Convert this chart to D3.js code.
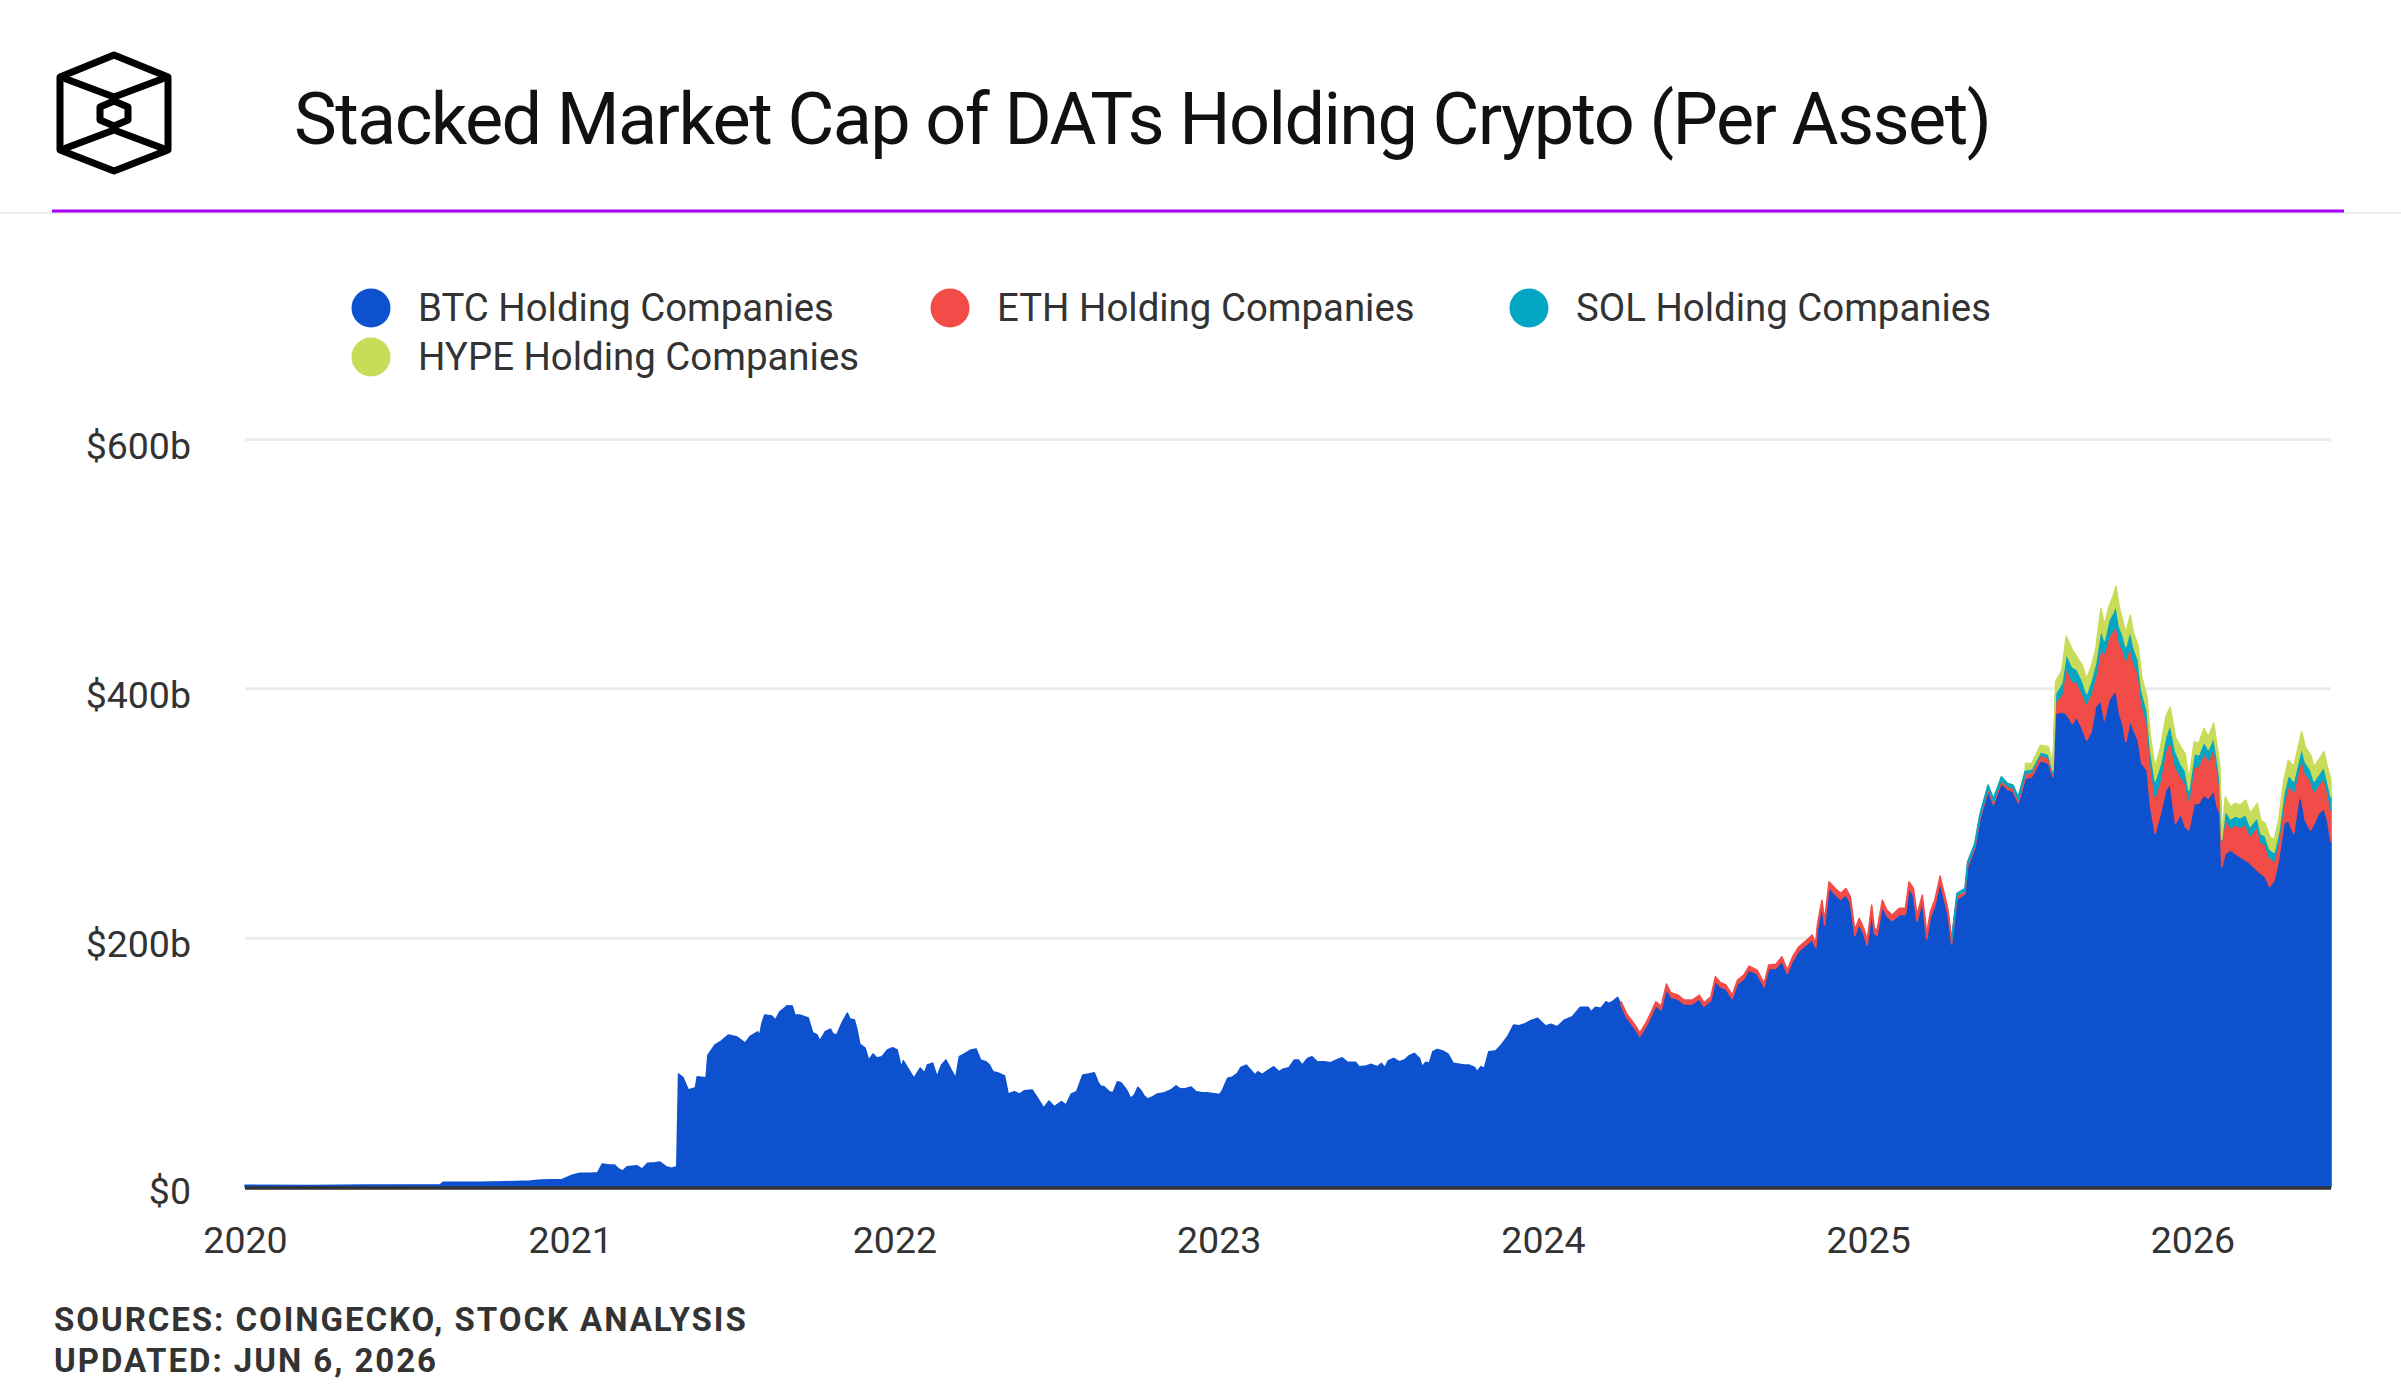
<!DOCTYPE html>
<html>
<head>
<meta charset="utf-8">
<script src="https://cdn.jsdelivr.net/npm/d3@7"></script>
<style>
  html, body { margin: 0; padding: 0; background: #fff; }
  svg { display: block; font-family: Roboto, "Noto Sans", sans-serif; }
</style>
</head>
<body>
<svg id="chart" width="2401" height="1400"></svg>
<script>
// ---- data ($ billions) ----

// period when only BTC holding companies are in the data
var btcOnlyDates = [
  "2020-01-01","2020-03-15","2020-05-15","2020-08-08","2020-08-11","2020-09-20","2020-10-20","2020-11-17","2020-11-29","2020-12-23",
  "2021-01-04","2021-01-12","2021-01-23","2021-02-01","2021-02-06","2021-02-14","2021-02-20","2021-02-25","2021-03-01","2021-03-06",
  "2021-03-17","2021-03-23","2021-03-29","2021-04-06","2021-04-12","2021-04-19","2021-04-25","2021-05-01","2021-05-03","2021-05-08",
  "2021-05-14","2021-05-22","2021-05-24","2021-06-03","2021-06-05","2021-06-13","2021-06-19","2021-06-28","2021-07-08","2021-07-17",
  "2021-07-23","2021-07-31","2021-08-02","2021-08-05","2021-08-08","2021-08-16","2021-08-20","2021-08-25","2021-09-02","2021-09-08",
  "2021-09-11","2021-09-17","2021-09-26","2021-10-01","2021-10-06","2021-10-09","2021-10-15","2021-10-21","2021-10-24","2021-10-28",
  "2021-11-03","2021-11-09","2021-11-12","2021-11-17","2021-11-20","2021-11-23","2021-11-29","2021-12-03","2021-12-08","2021-12-12",
  "2021-12-18","2021-12-24","2021-12-30","2022-01-04","2022-01-09","2022-01-11","2022-01-16","2022-01-23","2022-01-30","2022-02-04",
  "2022-02-07","2022-02-13","2022-02-18","2022-02-23","2022-02-28","2022-03-06","2022-03-11","2022-03-15","2022-03-23","2022-03-28",
  "2022-04-03","2022-04-08","2022-04-14","2022-04-18","2022-04-22","2022-04-27","2022-05-05","2022-05-09","2022-05-16","2022-05-22",
  "2022-05-27","2022-06-05","2022-06-11","2022-06-18","2022-06-24","2022-06-30","2022-07-08","2022-07-13","2022-07-19","2022-07-25",
  "2022-08-01","2022-08-08","2022-08-14","2022-08-18","2022-08-21","2022-08-25","2022-08-31","2022-09-04","2022-09-09","2022-09-13",
  "2022-09-19","2022-09-24","2022-09-28","2022-10-02","2022-10-05","2022-10-09","2022-10-13","2022-10-19","2022-10-24","2022-11-01",
  "2022-11-08","2022-11-14","2022-11-19","2022-11-25","2022-12-01","2022-12-06","2022-12-12","2022-12-19","2022-12-25","2023-01-02",
  "2023-01-05","2023-01-11","2023-01-16","2023-01-22","2023-01-26","2023-02-01","2023-02-06","2023-02-11","2023-02-14","2023-02-19",
  "2023-02-25","2023-03-04","2023-03-10","2023-03-14","2023-03-21","2023-03-27","2023-04-01","2023-04-05","2023-04-11","2023-04-16",
  "2023-04-22","2023-04-30","2023-05-07","2023-05-13","2023-05-20","2023-05-26","2023-06-04","2023-06-08","2023-06-16","2023-06-21",
  "2023-06-29","2023-07-03","2023-07-07","2023-07-11","2023-07-17","2023-07-23","2023-07-29","2023-08-03","2023-08-09","2023-08-15",
  "2023-08-18","2023-08-22","2023-08-26","2023-08-30","2023-09-04","2023-09-10","2023-09-16","2023-09-22","2023-09-29","2023-10-04",
  "2023-10-10","2023-10-16","2023-10-19","2023-10-23","2023-10-27","2023-11-01","2023-11-09","2023-11-15","2023-11-22","2023-11-29",
  "2023-12-05","2023-12-11","2023-12-18","2023-12-26","2024-01-04","2024-01-10","2024-01-17","2024-01-25","2024-02-03","2024-02-12",
  "2024-02-21","2024-02-24","2024-02-29","2024-03-06","2024-03-12","2024-03-15","2024-03-19","2024-03-25"
];
var btcOnly = [
  1.4,1.2,1.6,1.9,3.8,3.9,4.2,4.8,5.6,6.1,
  9.6,11.0,11.0,11.5,18.4,17.6,17.6,14.2,12.8,16.3,
  17.1,14.4,19.0,19.5,20.0,16.3,15.0,16.3,90.6,87.7,
  77.8,79.6,88.5,87.7,105.8,113.9,116.5,121.9,120.3,115.5,
  121.1,124.5,121.1,131.8,137.9,137.1,133.9,140.6,145.4,145.1,
  137.9,137.9,135.5,123.7,121.9,117.3,124.5,126.7,122.7,121.9,
  131.8,139.5,134.7,133.9,125.9,114.7,111.5,101.8,106.7,103.4,
  104.5,109.9,111.7,109.9,95.4,101.3,95.4,87.4,95.4,91.4,
  97.8,99.4,88.5,97.8,101.8,93.8,87.4,104.5,107.7,109.9,
  110.7,101.8,100.5,97.8,92.5,91.7,89.0,74.6,76.4,74.6,
  77.2,77.8,71.4,63.4,69.0,64.4,68.4,65.8,74.6,76.4,
  89.8,90.6,91.7,84.4,81.0,80.4,76.4,75.6,84.4,83.6,
  78.3,71.1,73.8,80.0,77.8,73.2,70.6,72.4,74.6,75.6,
  77.8,81.2,78.6,79.1,80.2,76.7,75.9,75.6,75.1,74.3,
  77.2,87.2,88.0,91.2,96.0,97.8,93.8,89.8,92.5,90.4,
  93.3,96.5,92.5,94.4,95.7,101.8,101.8,97.8,103.2,104.5,
  100.5,100.5,99.7,101.8,103.7,100.0,100.0,96.5,97.0,98.4,
  96.5,99.2,95.7,101.3,103.2,100.5,101.8,105.1,107.2,103.2,
  96.5,100.0,99.2,108.5,110.4,109.1,106.7,99.2,98.4,97.8,
  97.8,96.0,92.5,96.5,95.2,108.5,109.3,113.9,120.5,129.9,
  129.3,130.7,133.4,135.3,129.1,130.5,128.5,133.9,136.6,144.1,
  144.1,140.6,144.1,143.3,148.6,147.3,148.6,152.1
];

// period with several assets
var dates = [
  "2024-03-29","2024-04-04","2024-04-15","2024-04-19","2024-04-26","2024-05-02","2024-05-07","2024-05-13","2024-05-19","2024-05-24",
  "2024-06-01","2024-06-08","2024-06-17","2024-06-25","2024-06-30","2024-07-08","2024-07-13","2024-07-19","2024-07-25","2024-08-01",
  "2024-08-07","2024-08-14","2024-08-20","2024-08-29","2024-09-06","2024-09-11","2024-09-19","2024-09-26","2024-10-02","2024-10-08",
  "2024-10-15","2024-10-24","2024-10-30","2024-11-03","2024-11-05","2024-11-10","2024-11-13","2024-11-18","2024-11-25","2024-12-01",
  "2024-12-07","2024-12-12","2024-12-17","2024-12-22","2024-12-27","2024-12-31","2025-01-05","2025-01-08","2025-01-11","2025-01-17",
  "2025-01-22","2025-01-28","2025-02-05","2025-02-12","2025-02-16","2025-02-21","2025-02-25","2025-03-03","2025-03-08","2025-03-12",
  "2025-03-17","2025-03-23","2025-03-29","2025-04-01","2025-04-05","2025-04-11","2025-04-20","2025-04-23","2025-05-01","2025-05-07",
  "2025-05-16","2025-05-22","2025-05-31","2025-06-07","2025-06-13","2025-06-19","2025-06-27","2025-07-04","2025-07-14","2025-07-23",
  "2025-07-28","2025-07-31","2025-08-07","2025-08-12","2025-08-19","2025-08-24","2025-08-30","2025-09-04","2025-09-09","2025-09-14",
  "2025-09-20","2025-09-24","2025-09-29","2025-10-04","2025-10-07","2025-10-11","2025-10-15","2025-10-18","2025-10-23","2025-10-27",
  "2025-11-01","2025-11-05","2025-11-11","2025-11-15","2025-11-20","2025-11-26","2025-12-02","2025-12-07","2025-12-13","2025-12-19",
  "2025-12-24","2025-12-28","2026-01-03","2026-01-08","2026-01-14","2026-01-19","2026-01-25","2026-01-29","2026-02-01","2026-02-03",
  "2026-02-07","2026-02-13","2026-02-18","2026-02-24","2026-03-02","2026-03-07","2026-03-15","2026-03-19","2026-03-24","2026-03-29",
  "2026-04-03","2026-04-08","2026-04-14","2026-04-19","2026-04-25","2026-05-01","2026-05-04","2026-05-08","2026-05-14","2026-05-18",
  "2026-05-23","2026-05-29","2026-06-02","2026-06-06"
];
var btc = [
  146.0,136.3,125.5,120.8,128.8,137.5,145.4,142.0,159.3,152.4,
  150.6,146.7,146.8,150.9,144.8,149.6,165.3,160.5,158.8,151.2,
  163.0,167.0,174.1,171.0,160.5,175.0,175.5,181.4,171.0,181.5,
  189.4,194.7,198.6,192.0,207.2,225.9,210.1,240.2,234.8,230.7,
  234.5,228.0,201.8,211.0,203.2,194.0,221.5,203.2,201.9,225.5,
  217.6,213.7,218.5,218.6,239.6,234.4,213.3,229.2,199.0,216.3,
  225.5,244.6,227.1,218.1,194.9,231.0,235.2,256.7,271.5,295.3,
  317.7,306.8,323.9,318.8,317.4,308.2,327.7,329.0,342.4,339.7,
  329.0,379.8,381.2,379.8,371.8,377.1,367.8,358.4,365.1,385.2,
  390.5,374.5,390.5,395.9,398.5,379.8,370.3,357.1,374.5,366.5,
  358.4,339.7,334.4,305.0,283.6,299.6,318.3,323.7,291.6,299.6,
  288.9,286.3,307.7,307.7,314.4,311.7,318.4,305.0,299.7,256.9,
  267.6,270.3,267.6,264.9,262.3,259.6,254.2,251.6,248.9,240.9,
  246.2,262.3,291.7,294.3,283.6,313.0,310.4,294.3,286.3,291.7,
  299.7,303.7,294.3,277.0
];
var eth = [
  2.6,3.0,3.0,2.9,3.0,3.1,3.2,3.1,3.5,3.4,
  3.4,3.3,3.2,3.1,3.0,3.0,3.3,3.3,3.2,2.8,
  3.0,3.0,3.1,3.0,2.8,3.0,3.1,3.3,3.0,3.2,
  3.3,3.4,3.5,3.4,3.7,4.2,4.0,4.6,4.7,4.8,
  5.0,4.8,4.3,4.5,4.3,4.1,4.6,4.3,4.2,4.6,
  4.5,4.4,5.0,4.9,5.2,5.1,4.8,5.0,4.4,4.5,
  4.6,4.8,4.4,4.0,3.0,2.9,2.5,2.4,2.2,2.3,
  2.5,2.6,2.8,2.7,2.8,2.7,4.0,3.9,4.0,4.5,
  3.0,9.4,14.0,37.5,33.4,28.0,28.1,29.4,31.0,24.0,
  42.0,53.4,50.8,50.7,52.2,56.2,60.0,65.5,58.8,53.5,
  53.5,48.1,37.4,34.7,29.4,26.8,32.1,34.7,45.5,29.4,
  34.8,24.0,29.4,29.8,33.9,30.7,33.9,29.8,20.0,20.1,
  27.4,17.7,22.7,23.7,28.7,22.4,34.7,25.0,25.5,23.3,
  15.4,14.6,16.1,28.1,33.5,22.1,33.3,37.8,39.5,25.5,
  22.8,24.9,22.5,25.3
];
var sol = [
  0,0,0,0,0,0,0,0,0,0,
  0,0,0,0,0,0,0,0,0,0,
  0,0,0,0,0,0,0,0,0,0,
  0,0,0,0,0,0,0,0,0,0,
  0,0,0,0,0,0,0,0,0,0,
  0,0,0,0,0,0,0,0,0,0,
  0,0,0,0,1.5,1.6,1.8,1.8,1.9,2.0,
  2.2,2.3,2.3,2.2,2.2,2.1,2.7,2.5,2.7,3.0,
  2.0,6.7,9.0,10.6,12.1,10.0,10.7,8.1,10.0,10.7,
  15.0,10.7,13.4,14.8,16.0,13.3,12.0,10.9,13.3,12.8,
  11.0,10.6,10.4,10.2,12.9,12.6,10.8,13.1,12.7,10.5,
  10.3,8.0,10.6,9.3,9.0,8.6,8.8,8.2,7.8,2.0,
  7.5,7.2,7.4,7.6,7.9,7.3,7.6,7.1,7.0,6.8,
  6.9,7.2,7.8,8.4,8.6,8.8,9.2,9.0,8.9,8.5,
  8.3,8.6,8.8,10.7
];
var hype = [
  0,0,0,0,0,0,0,0,0,0,
  0,0,0,0,0,0,0,0,0,0,
  0,0,0,0,0,0,0,0,0,0,
  0,0,0,0,0,0,0,0,0,0,
  0,0,0,0,0,0,0,0,0,0,
  0,0,0,0,0,0,0,0,0,0,
  0,0,0,0,0,0,0,0,0,0,
  0,0,0,0,0,0,5.3,4.3,5.3,5.9,
  3.1,9.3,10.4,13.9,13.3,10.2,12.0,12.0,11.2,10.7,
  16.5,12.1,10.7,13.3,15.2,14.7,11.0,10.5,12.1,10.9,
  11.2,10.8,10.4,10.1,10.6,13.4,16.0,13.4,10.9,13.4,
  13.3,8.1,9.4,9.0,10.5,10.2,10.8,10.1,9.6,2.0,
  10.5,9.8,10.0,10.2,11.5,10.4,11.2,10.6,10.3,10.0,
  9.8,10.2,10.8,11.6,11.4,11.9,12.3,12.0,11.8,11.4,
  11.6,11.9,11.5,13.4
];

var yTicks = [0, 200, 400, 600];
var xTickYears = ["2020", "2021", "2022", "2023", "2024", "2025", "2026"];
var seriesKeys = ["btc", "eth", "sol", "hype"];
var seriesNames = ["BTC Holding Companies", "ETH Holding Companies", "SOL Holding Companies", "HYPE Holding Companies"];
var seriesColors = ["#0d51cf", "#f24c48", "#03a7c3", "#c8dc5a"];

if (dates.length !== btc.length || btc.length !== eth.length || eth.length !== sol.length || sol.length !== hype.length ||
    btcOnlyDates.length !== btcOnly.length) {
  throw new Error("data arrays out of line");
}

// ---- build ----
var svg = d3.select("#chart");
var plot = {left: 245, right: 2331, top: 439, bottom: 1187};
var parse = d3.utcParse("%Y-%m-%d");

var rows = [];
btcOnlyDates.forEach(function (d, i) {
  rows.push({date: parse(d), btc: btcOnly[i], eth: 0, sol: 0, hype: 0});
});
dates.forEach(function (d, i) {
  rows.push({date: parse(d), btc: btc[i], eth: eth[i], sol: sol[i], hype: hype[i]});
});

var x = d3.scaleUtc()
  .domain([parse("2020-01-01"), parse("2026-06-06")])
  .range([plot.left, plot.right]);
var y = d3.scaleLinear()
  .domain([0, 600])
  .range([plot.bottom, plot.top]);

svg.append("rect").attr("width", 2401).attr("height", 1400).attr("fill", "#fff");

// header: logo
var logo = svg.append("g")
  .attr("fill", "none")
  .attr("stroke", "#000")
  .attr("stroke-width", 7)
  .attr("stroke-linejoin", "round")
  .attr("stroke-linecap", "round");
logo.append("path").attr("d", "M114,55 L168,77 L168,150 L114,171 L60,150 L60,77 Z");
logo.append("path").attr("d", "M66,79 L114,97 L162,79");
logo.append("path").attr("d", "M66,148 L114,130 L162,148");
logo.append("path").attr("d", "M114,101 L128,107 L128,120 L114,126 L100,120 L100,107 Z");

svg.append("text")
  .attr("x", 294)
  .attr("y", 144)
  .attr("font-size", 72)
  .attr("letter-spacing", -1.6)
  .attr("fill", "#111")
  .text("Stacked Market Cap of DATs Holding Crypto (Per Asset)");

svg.append("line")
  .attr("x1", 0).attr("x2", 2401).attr("y1", 213).attr("y2", 213)
  .attr("stroke", "#e6e6e6").attr("stroke-width", 1.5);
svg.append("line")
  .attr("x1", 52).attr("x2", 2344).attr("y1", 211).attr("y2", 211)
  .attr("stroke", "#a600f5").attr("stroke-width", 3);

// legend
var legendPos = [[371, 308], [950, 308], [1529, 308], [371, 357]];
var legend = svg.append("g");
seriesNames.forEach(function (name, i) {
  var g = legend.append("g").attr("transform", "translate(" + legendPos[i][0] + "," + legendPos[i][1] + ")");
  g.append("circle").attr("r", 19.5).attr("fill", seriesColors[i]);
  g.append("text")
    .attr("x", 47)
    .attr("y", 13)
    .attr("font-size", 38.4)
    .attr("fill", "#333")
    .text(name);
});

// gridlines + y labels
var yAxis = d3.axisLeft(y)
  .tickValues(yTicks)
  .tickSize(-(plot.right - plot.left))
  .tickPadding(54)
  .tickFormat(function (v) { return v === 0 ? "$0" : "$" + v + "b"; });

var yG = svg.append("g")
  .attr("transform", "translate(" + plot.left + ",0)")
  .call(yAxis);
yG.select(".domain").remove();
yG.selectAll(".tick line")
  .attr("stroke", "#ebebeb")
  .attr("stroke-width", 3)
  .attr("opacity", function (d) { return d === 0 ? 0 : 1; });
yG.selectAll(".tick text")
  .attr("font-family", "Roboto, sans-serif")
  .attr("font-size", 37.5)
  .attr("fill", "#333")
  .attr("dy", function (d) { return d === 0 ? 16 : 19; });

// stacked areas; a layer is only drawn where it has some value
var stack = d3.stack().keys(seriesKeys);
var layers = stack(rows);

var area = d3.area()
  .defined(function (d) { return d[1] - d[0] > 0; })
  .x(function (d) { return x(d.data.date); })
  .y0(function (d) { return y(d[0]); })
  .y1(function (d) { return y(d[1]); });

svg.append("g")
  .selectAll("path")
  .data(layers)
  .join("path")
  .attr("d", area)
  .attr("fill", function (d, i) { return seriesColors[i]; })
  .attr("stroke", function (d, i) { return seriesColors[i]; })
  .attr("stroke-width", 1.5)
  .attr("stroke-linejoin", "round");

// zero line
svg.append("line")
  .attr("x1", plot.left).attr("x2", plot.right)
  .attr("y1", y(0) + 1).attr("y2", y(0) + 1)
  .attr("stroke", "#333").attr("stroke-width", 3.3);

// x axis labels
var xAxis = d3.axisBottom(x)
  .tickValues(xTickYears.map(function (s) { return parse(s + "-01-01"); }))
  .tickFormat(d3.utcFormat("%Y"))
  .tickSize(0)
  .tickPadding(39);

var xG = svg.append("g")
  .attr("transform", "translate(0," + plot.bottom + ")")
  .call(xAxis);
xG.select(".domain").remove();
xG.selectAll(".tick text")
  .attr("font-family", "Roboto, sans-serif")
  .attr("font-size", 37.5)
  .attr("fill", "#333");

// footer
svg.append("text")
  .attr("x", 54).attr("y", 1331)
  .attr("font-size", 33).attr("font-weight", 700).attr("letter-spacing", 1.95).attr("fill", "#333")
  .text("SOURCES: COINGECKO, STOCK ANALYSIS");
svg.append("text")
  .attr("x", 54).attr("y", 1372)
  .attr("font-size", 33).attr("font-weight", 700).attr("letter-spacing", 1.95).attr("fill", "#333")
  .text("UPDATED: JUN 6, 2026");
</script>
</body>
</html>
